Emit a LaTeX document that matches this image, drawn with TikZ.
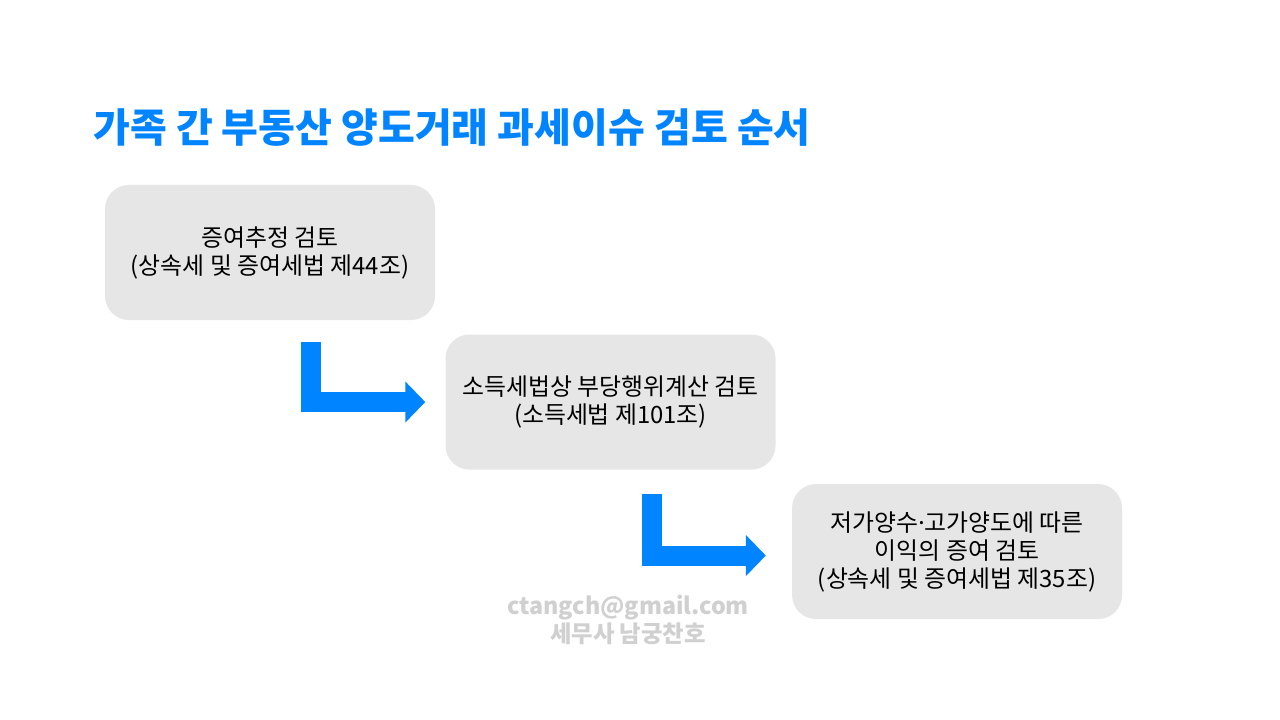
\documentclass[tikz,border=0pt]{standalone}
\usepackage{fontspec}
\setmainfont{Noto Sans CJK KR}
\newfontfamily\latinfont{Noto Sans}
\usepackage{tikz}
\usetikzlibrary{arrows.meta, positioning, calc}
\definecolor{titleblue}{RGB}{0,132,255}
\definecolor{stepgray}{RGB}{230,230,230}
\definecolor{markgray}{RGB}{208,208,208}

\begin{document}
\begin{tikzpicture}[
    x=0.75pt, y=-0.75pt,
    stepbox/.style={rectangle, rounded corners=18pt, fill=stepgray,
                    minimum width=247.5pt, minimum height=101.25pt, align=center,
                    font=\fontsize{17.9}{21}\selectfont, text=black},
    flowarr/.style={draw=titleblue, line width=15pt, line join=miter,
                 -{Triangle[length=15pt, width=30pt]}, shorten >=#1},
    flowarr/.default=15pt,
]
    \useasboundingbox[fill=white] (0,0) rectangle (1280,720);

    % Title
    \node[anchor=west, inner sep=0pt, text=titleblue,
          font=\fontsize{30}{34}\selectfont\bfseries] (title) at (93,128)
        {가족 간 부동산 양도거래 과세이슈 검토 순서};

    % Steps
    \node[stepbox] (gift) at (270,252.5) {증여추정 검토\\(상속세 및 증여세법 제44조)};
    \node[stepbox, below right=10.5pt and 7.5pt of gift] (income)
        {소득세법상 부당행위계산 검토\\(소득세법 제101조)};
    \node[stepbox, below right=10.5pt and 12pt of income] (price)
        {저가양수{\latinfont ·}고가양도에 따른\\이익의 증여 검토\\(상속세 및 증여세법 제35조)};

    % Bent arrows
    \draw[flowarr] ($(gift.south)+(41,22)$) |- (income.west);
    \draw[flowarr=19.5pt] ($(income.south)+(41,24)$) |- ($(price.west)+(0,4)$);

    % Watermark
    \node[align=center, text=markgray, inner sep=0pt,
          font=\fontsize{17.5}{21}\selectfont\bfseries] (mark) at (628,620)
        {ctangch@gmail.com\\세무사 남궁찬호};
\end{tikzpicture}
\end{document}
